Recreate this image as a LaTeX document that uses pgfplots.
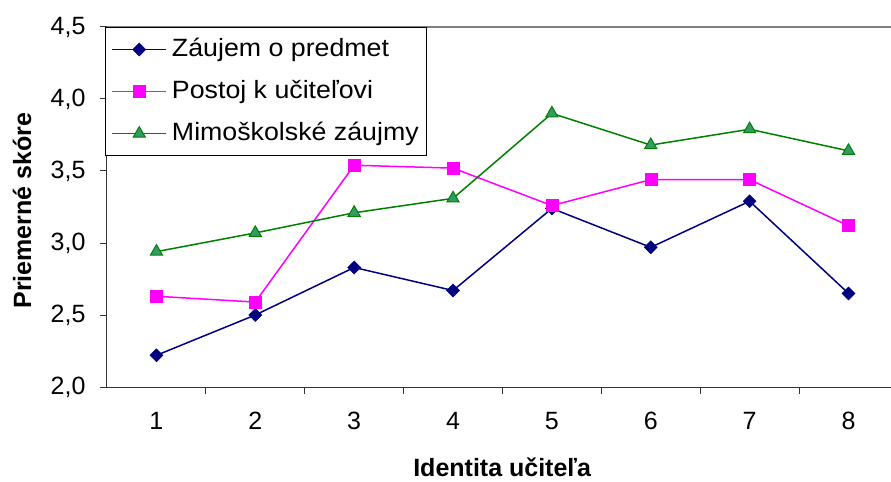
\documentclass[border=0pt]{standalone}
\usepackage{fontspec}
\setmainfont{Liberation Sans}
\newfontfamily\legfont{Liberation Sans}[FakeStretch=1.07]
\usepackage{pgfplots}
\pgfplotsset{compat=1.18}

\definecolor{navy}{RGB}{0,0,128}
\definecolor{magen}{RGB}{255,0,255}
\definecolor{grn}{RGB}{0,128,0}
\definecolor{grnfill}{RGB}{51,153,102}

\pgfplotstableread{
x zaujem postoj mimo
1 2.22 2.63 2.94
2 2.50 2.59 3.07
3 2.83 3.54 3.21
4 2.67 3.52 3.31
5 3.24 3.26 3.90
6 2.97 3.44 3.68
7 3.29 3.44 3.79
8 2.65 3.12 3.64
}\scores

\newcommand{\bigfont}{\fontsize{25bp}{30bp}\selectfont}

\begin{document}
\bigfont
\begin{tikzpicture}
	\useasboundingbox (-107bp,-95bp) rectangle (784bp,387bp);
	\begin{axis}[
		at={(0,0)}, anchor=south west,
		scale only axis, width=784bp, height=360bp,
		xmin=0.5, xmax=8.43, ymin=2, ymax=4.5,
		axis x line=bottom, axis y line=left,
		axis line style={-, line width=1bp, black!80},
		xtick={1,...,8}, minor xtick={1.5,2.5,...,7.5},
		ytick={2,2.5,...,4.5},
		tick align=outside,
		major tick length=7bp, minor tick length=7bp,
		major x tick style={draw=none},
		tick style={line width=1bp, black!80},
		/pgf/number format/assume math mode=true,
		y tick label style={/pgf/number format/use comma, /pgf/number format/fixed, /pgf/number format/fixed zerofill, /pgf/number format/precision=1},
		ticklabel style={font=\bigfont},
		xticklabel style={yshift=-10bp},
		yticklabel style={xshift=-6bp},
		xlabel={\bfseries Identita učiteľa},
		ylabel={\bfseries Priemerné skóre},
		xlabel style={at={(axis description cs:0.504,0)}, anchor=center, yshift=-80bp, font=\bigfont},
		ylabel style={at={(axis description cs:0,0.49)}, anchor=center, yshift=85bp, font=\bigfont},
		legend style={at={(rel axis cs:0,1)}, anchor=north west, xshift=-2bp,
			draw=black, line width=1bp, fill=white, font=\legfont\bigfont,
			inner xsep=6bp, inner ysep=9bp, row sep=16bp, column sep=3bp, cells={anchor=west}},
		legend image code/.code={\draw[#1, line width=1.5bp, mark repeat=2, mark phase=2] plot coordinates {(0bp,0bp) (27bp,0bp) (54bp,0bp)};},
		legend cell align=left,
	]
		\addplot[navy, line width=1.5bp, mark=square*, mark size=4.6bp, mark options={rotate=45, fill=navy, draw=navy, line width=0.5bp}] table[x=x, y=zaujem] {\scores};
		\addplot[magen, line width=1.5bp, mark=square*, mark size=6bp, mark options={fill=magen, draw=magen, line width=0.5bp}] table[x=x, y=postoj] {\scores};
		\addplot[grn, line width=1.5bp, mark=triangle*, mark size=7bp, mark options={fill=grnfill, draw=grn, line width=1bp}] table[x=x, y=mimo] {\scores};
		\legend{Záujem o predmet, Postoj k učiteľovi, Mimoškolské záujmy}
		\draw[gray, line width=1.2bp] (rel axis cs:0,1) -- (rel axis cs:1,1);
	\end{axis}
\end{tikzpicture}
\end{document}
